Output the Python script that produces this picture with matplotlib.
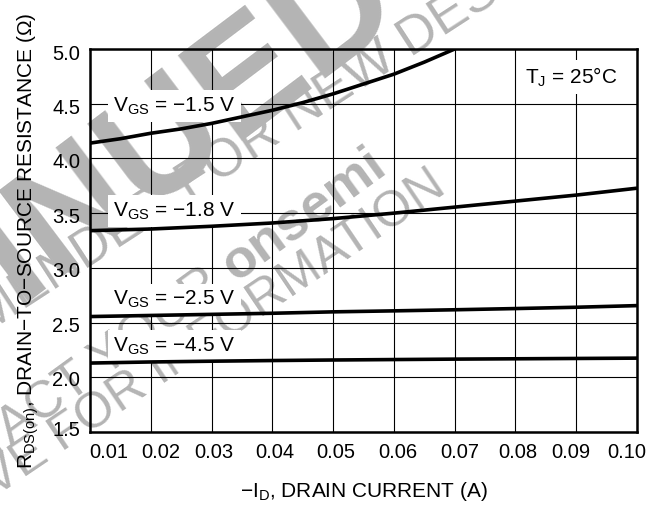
import matplotlib
matplotlib.use('Agg')
import matplotlib.pyplot as plt
from matplotlib.transforms import ScaledTranslation

plt.rcParams['font.family'] = ['Liberation Sans', 'DejaVu Sans']
plt.rcParams['mathtext.default'] = 'regular'

# ---------------- data ----------------
id_15 = [0.010, 0.015, 0.020, 0.025, 0.030, 0.035, 0.040, 0.045, 0.050, 0.055, 0.060, 0.065, 0.070]
r_15 = [4.14, 4.18, 4.23, 4.27, 4.32, 4.38, 4.44, 4.51, 4.59, 4.68, 4.77, 4.88, 5.00]

id_all = [0.01, 0.02, 0.03, 0.04, 0.05, 0.06, 0.07, 0.08, 0.09, 0.10]
r_18 = [3.34, 3.355, 3.38, 3.41, 3.45, 3.50, 3.555, 3.61, 3.665, 3.728]
r_25 = [2.555, 2.565, 2.575, 2.585, 2.598, 2.607, 2.617, 2.628, 2.64, 2.655]
r_45 = [2.13, 2.14, 2.147, 2.153, 2.158, 2.162, 2.166, 2.169, 2.172, 2.175]

x_ticks = [0.01, 0.02, 0.03, 0.04, 0.05, 0.06, 0.07, 0.08, 0.09, 0.10]
x_ticklabels = ['0.01', '0.02', '0.03', '0.04', '0.05', '0.06', '0.07', '0.08', '0.09', '0.10']
y_ticks = [1.5, 2.0, 2.5, 3.0, 3.5, 4.0, 4.5, 5.0]
y_ticklabels = ['1.5', '2.0', '2.5', '3.0', '3.5', '4.0', '4.5', '5.0']

labels = [r'V$_{GS}$ = −1.5 V', r'V$_{GS}$ = −1.8 V', r'V$_{GS}$ = −2.5 V', r'V$_{GS}$ = −4.5 V']
temp_label = r'T$_{J}$ = 25°C'

# ---------------- figure ----------------
W, H = 660, 505
fig = plt.figure(figsize=(W / 100, H / 100), dpi=100)
L, R, T, B = 90, 637, 49, 432
ax = fig.add_axes([L / W, 1 - B / H, (R - L) / W, (B - T) / H])
ax.set_facecolor('none')

def px(x, y):
    return x / W, 1 - y / H

# watermark (behind the chart)
wm = '#b4b4b4'
fig.text(*px(405, 10), 'DISCONTINUED', color=wm, fontsize=112, fontweight='bold',
         rotation=37, rotation_mode='anchor', ha='right', va='baseline', zorder=-5)
p2 = px(190, 202)
fig.text(*p2, 'NOT RECOMMENDED ', color=wm, fontsize=38, rotation=33,
         rotation_mode='anchor', ha='right', va='baseline', zorder=-5)
fig.text(*p2, 'FOR NEW DESIGN', color=wm, fontsize=38, rotation=33,
         rotation_mode='anchor', ha='left', va='baseline', zorder=-5)
p3 = px(236, 282)
fig.text(*p3, 'CONTACT YOUR ', color=wm, fontsize=37, rotation=36,
         rotation_mode='anchor', ha='right', va='baseline', zorder=-5)
fig.text(*p3, 'onsemi', color=wm, fontsize=39, fontweight='bold', rotation=36,
         rotation_mode='anchor', ha='left', va='baseline', zorder=-5)
p4 = px(62, 452)
fig.text(*p4, 'REPRESENTATIVE ', color=wm, fontsize=36, rotation=34,
         rotation_mode='anchor', ha='right', va='baseline', zorder=-5)
fig.text(*p4, 'FOR INFORMATION', color=wm, fontsize=36, rotation=34,
         rotation_mode='anchor', ha='left', va='baseline', zorder=-5)

lw_curve = 2.6
ax.plot(id_15, r_15, color='black', lw=lw_curve, solid_capstyle='butt', zorder=4)
ax.plot(id_all, r_18, color='black', lw=lw_curve, solid_capstyle='butt', zorder=4)
ax.plot(id_all, r_25, color='black', lw=lw_curve, solid_capstyle='butt', zorder=4)
ax.plot(id_all, r_45, color='black', lw=lw_curve, solid_capstyle='butt', zorder=4)

ax.set_xlim(0.01, 0.10)
ax.set_ylim(1.5, 5.0)
ax.set_xticks(x_ticks)
ax.set_xticklabels(x_ticklabels)
ax.set_yticks(y_ticks)
ax.set_yticklabels(y_ticklabels)
ax.grid(True, color='black', lw=0.8, zorder=1)
ax.set_axisbelow(True)
for s in ax.spines.values():
    s.set_linewidth(1.8)
    s.set_zorder(5)
ax.tick_params(axis='both', length=0, labelsize=14.5, colors='black')
ax.tick_params(axis='x', pad=8)
ax.tick_params(axis='y', pad=7)

x_off = [19, 10, 2.5, 2, 2.5, 4, 5, 2, -5, -10.5]
for lab, dx in zip(ax.get_xticklabels(), x_off):
    lab.set_transform(lab.get_transform() + ScaledTranslation(dx / 100, 0, fig.dpi_scale_trans))
y_off = [4, -1, -2, -2, -2, -2, -3, -4]
for lab, dy in zip(ax.get_yticklabels(), y_off):
    lab.set_transform(lab.get_transform() + ScaledTranslation(0, dy / 100, fig.dpi_scale_trans))

ax.set_xlabel(r'−I$_{D}$, DRAIN CURRENT (A)', fontsize=15)
ax.xaxis.set_label_coords(0.5, -0.125)
ax.set_ylabel(r'R$_{DS(on)}$, DRAIN−TO−SOURCE RESISTANCE (Ω)', fontsize=15)
ax.yaxis.set_label_coords(-0.09, 0.5)

def ax_xy(x, y):
    return (x - L) / (R - L), (B - y) / (B - T)

box = dict(boxstyle='square,pad=0.25', facecolor='white', edgecolor='none')
for lab, (lx, ly) in zip(labels, [(113, 111.7), (113, 216.7), (113, 305), (113, 351.7)]):
    ax.text(*ax_xy(lx, ly), lab, transform=ax.transAxes, fontsize=15, ha='left',
            va='baseline', bbox=box, zorder=3)
ax.text(*ax_xy(525, 83.3), temp_label, transform=ax.transAxes, fontsize=15, ha='left',
        va='baseline', bbox=box, zorder=3)

fig.savefig('out.png', dpi=100)
